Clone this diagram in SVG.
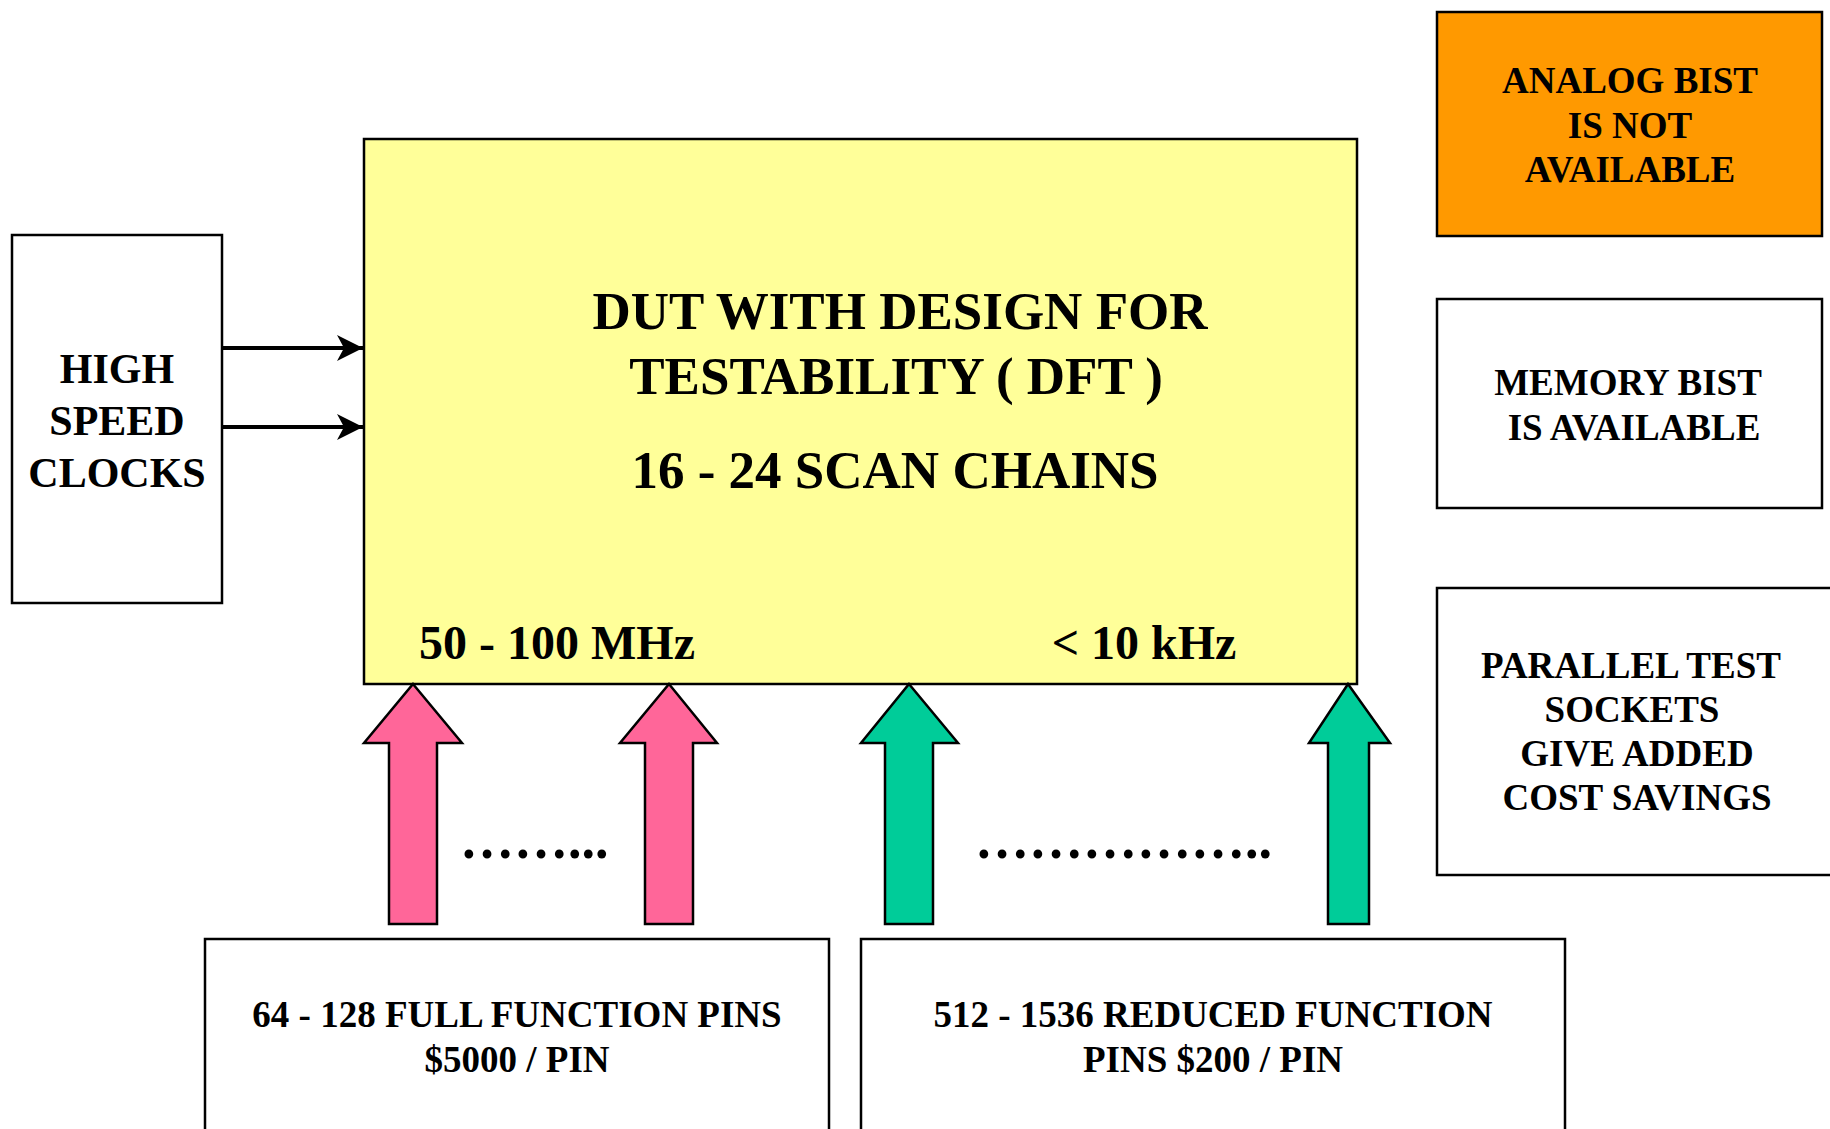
<svg xmlns="http://www.w3.org/2000/svg" width="1830" height="1129" viewBox="0 0 1830 1129">
  <style>
    .box { stroke: #000; stroke-width: 2.5; }
    .txt { font-family: "Liberation Serif", "Times New Roman", serif; font-weight: bold; fill: #000; text-anchor: middle; }
    .big { font-size: 53px; }
    .mid { font-size: 48px; }
    .sm  { font-size: 42px; }
    .xs  { font-size: 37px; }
    .dots { font-family: "Liberation Serif", "Times New Roman", serif; font-weight: bold; font-size: 54px; fill: #000; }
    .wire { stroke: #000; stroke-width: 4; fill: none; }
    .fat { stroke: #000; stroke-width: 2.5; stroke-linejoin: miter; }
  </style>
  <defs>
    <marker id="head" markerUnits="userSpaceOnUse" markerWidth="28" markerHeight="28" refX="26" refY="14" orient="auto">
      <path d="M0,1 L26,14 L0,27 L7,14 Z" fill="#000"/>
    </marker>
  </defs>
  <rect width="1830" height="1129" fill="#fff"/>

  <!-- device under test -->
  <g id="dut">
    <rect class="box" x="364" y="139" width="993" height="545" fill="#FFFF99"/>
    <text class="txt big" x="900" y="329">DUT WITH DESIGN FOR</text>
    <text class="txt big" x="896" y="394">TESTABILITY ( DFT )</text>
    <text class="txt big" x="895" y="488">16 - 24 SCAN CHAINS</text>
    <text class="txt mid" x="557" y="659">50 - 100 MHz</text>
    <text class="txt mid" x="1144" y="659">&lt; 10 kHz</text>
  </g>

  <!-- clock source -->
  <g id="clocks">
    <rect class="box" x="12" y="235" width="210" height="368" fill="#fff"/>
    <text class="txt sm" x="117" y="383">HIGH</text>
    <text class="txt sm" x="117" y="435">SPEED</text>
    <text class="txt sm" x="117" y="487">CLOCKS</text>
  </g>

  <!-- side notes -->
  <g id="analog-bist">
    <rect class="box" x="1437" y="12" width="385" height="224" fill="#FF9900"/>
    <text class="txt xs" x="1630" y="93">ANALOG BIST</text>
    <text class="txt xs" x="1630" y="138">IS NOT</text>
    <text class="txt xs" x="1630" y="182">AVAILABLE</text>
  </g>
  <g id="memory-bist">
    <rect class="box" x="1437" y="299" width="385" height="209" fill="#fff"/>
    <text class="txt xs" x="1628" y="395">MEMORY BIST</text>
    <text class="txt xs" x="1634" y="440">IS AVAILABLE</text>
  </g>
  <g id="parallel-test">
    <rect class="box" x="1437" y="588" width="410" height="287" fill="#fff"/>
    <text class="txt xs" x="1631" y="678">PARALLEL TEST</text>
    <text class="txt xs" x="1632" y="722">SOCKETS</text>
    <text class="txt xs" x="1637" y="766">GIVE ADDED</text>
    <text class="txt xs" x="1637" y="810">COST SAVINGS</text>
  </g>

  <!-- pin groups -->
  <g id="full-function-pins">
    <rect class="box" x="205" y="939" width="624" height="210" fill="#fff"/>
    <text class="txt xs" x="517" y="1027">64 - 128 FULL FUNCTION PINS</text>
    <text class="txt xs" x="517" y="1072">$5000 / PIN</text>
  </g>
  <g id="reduced-function-pins">
    <rect class="box" x="861" y="939" width="704" height="210" fill="#fff"/>
    <text class="txt xs" x="1213" y="1027">512 - 1536 REDUCED FUNCTION</text>
    <text class="txt xs" x="1213" y="1072">PINS $200 / PIN</text>
  </g>

  <!-- connectors -->
  <g id="connectors">
    <line class="wire" x1="222" y1="348" x2="363" y2="348" marker-end="url(#head)"/>
    <line class="wire" x1="222" y1="427" x2="363" y2="427" marker-end="url(#head)"/>
    <polygon class="fat" fill="#FF6699" points="413,684 462,743 437,743 437,924 389,924 389,743 364,743"/>
    <polygon class="fat" fill="#FF6699" points="669,684 717,743 693,743 693,924 645,924 645,743 620,743"/>
    <polygon class="fat" fill="#00CC99" points="909,684 958,743 933,743 933,924 885,924 885,743 861,743"/>
    <polygon class="fat" fill="#00CC99" points="1348,684 1390,743 1369,743 1369,924 1328,924 1328,743 1309,743"/>
    <text class="dots" x="460" y="858">……...</text>
    <text class="dots" x="975" y="858">……………..</text>
  </g>
</svg>
